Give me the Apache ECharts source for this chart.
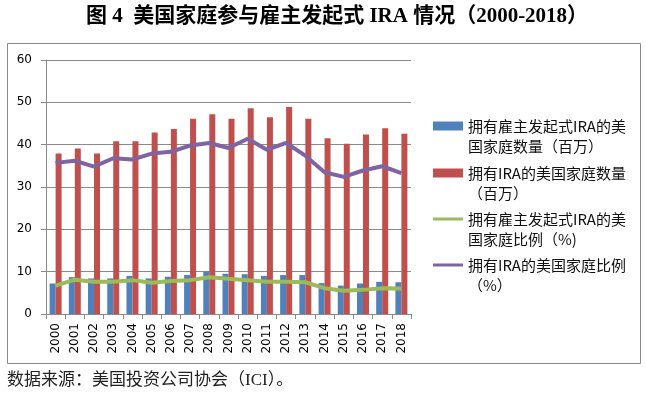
<!DOCTYPE html>
<html>
<head>
<meta charset="utf-8">
<script src="https://cdn.jsdelivr.net/npm/echarts@6/dist/echarts.min.js"></script>
<style>
html,body{margin:0;padding:0;background:#fff;}
#chart{width:646px;height:394px;}
</style>
</head>
<body>
<div id="chart"></div>
<script>
var years = ['2000','2001','2002','2003','2004','2005','2006','2007','2008','2009','2010','2011','2012','2013','2014','2015','2016','2017','2018'];
var employerIraHouseholds = [7.2,8.7,8.4,8.4,9.0,8.4,8.8,9.2,10.0,9.5,9.4,9.0,9.2,9.2,7.3,6.7,7.2,7.6,7.5];
var iraHouseholds = [37.9,39.1,37.9,40.8,40.8,42.9,43.7,46.1,47.2,46.1,48.6,46.5,48.9,46.1,41.5,40.2,42.4,43.9,42.6];
var employerIraShare = [6.7,8.1,7.6,7.6,8.0,7.4,7.8,8.0,8.7,8.3,8.0,7.6,7.6,7.5,6.1,5.5,5.7,6.1,6.0];
var iraShare = [35.7,36.2,34.8,36.8,36.5,37.9,38.3,39.8,40.4,39.2,41.4,38.8,40.4,37.4,33.5,32.4,33.9,34.9,33.3];
var yTicks = [0,10,20,30,40,50,60];

var names = ['拥有雇主发起式IRA的美国家庭数量（百万）','拥有IRA的美国家庭数量（百万）','拥有雇主发起式IRA的美国家庭比例（%)','拥有IRA的美国家庭比例（%）'];
var legendText = ['拥有雇主发起式IRA的美\n国家庭数量（百万）','拥有IRA的美国家庭数量\n（百万）','拥有雇主发起式IRA的美\n国家庭比例（%)','拥有IRA的美国家庭比例\n（%）'];
var legendTops = [96, 143, 189, 235];
var legendIsLine = [false, false, true, true];

var cjk = '"Noto Sans CJK SC", "Noto Sans", sans-serif';
var serifCjk = '"Liberation Serif", "Noto Sans CJK SC", serif';

function makeLegend(i){
  var h = legendIsLine[i] ? 3 : 9;
  return {
    data: [{name: names[i], icon: 'rect'}],
    left: 433, top: legendTops[i],
    orient: 'vertical',
    padding: 0,
    itemWidth: 30, itemHeight: h, itemGap: 0,
    formatter: function(){ return '\n' + legendText[i]; },
    textStyle: {fontSize: 15, lineHeight: 20, color: '#111', fontFamily: cjk},
    selectedMode: false
  };
}

var chart = echarts.init(document.getElementById('chart'), null, {renderer: 'canvas'});
chart.setOption({
  animation: false,
  backgroundColor: '#fff',
  title: [{
    text: '图 4  美国家庭参与雇主发起式 IRA 情况（2000-2018）',
    left: 337, top: 6, textAlign: 'center', padding: 0,
    textStyle: {fontSize: 21, fontWeight: 'bold', color: '#000', fontFamily: serifCjk}
  },{
    text: '数据来源：美国投资公司协会（ICI）。',
    left: 7, top: 372, padding: 0,
    textStyle: {fontSize: 17, fontWeight: 'normal', color: '#222', fontFamily: serifCjk}
  }],
  graphic: [{
    type: 'rect', shape: {x: 7.5, y: 43.5, width: 633, height: 320},
    style: {fill: 'none', stroke: '#8a8a8a', lineWidth: 1}, silent: true
  }],
  legend: [makeLegend(0), makeLegend(1), makeLegend(2), makeLegend(3)],
  grid: {left: 46, right: 235, top: 60, bottom: 80, containLabel: false},
  xAxis: {
    type: 'category', data: years,
    axisLine: {lineStyle: {color: '#8a8a8a'}},
    axisTick: {show: true, length: 5, lineStyle: {color: '#8a8a8a'}},
    axisLabel: {rotate: 90, margin: 9, fontSize: 12, color: '#000', fontFamily: 'DejaVu Sans', interval: 0}
  },
  yAxis: {
    type: 'value', min: 0, max: 60, interval: 10,
    axisLine: {show: true, lineStyle: {color: '#8a8a8a'}},
    axisTick: {show: true, length: 5, lineStyle: {color: '#8a8a8a'}},
    axisLabel: {margin: 14, fontSize: 12, color: '#000', fontFamily: 'DejaVu Sans'},
    splitLine: {show: true, lineStyle: {color: '#8a8a8a'}}
  },
  series: [{
    name: names[0], type: 'bar', data: employerIraHouseholds,
    barWidth: 6, barGap: '0%', itemStyle: {color: '#4F81BD'}
  },{
    name: names[1], type: 'bar', data: iraHouseholds,
    barWidth: 6, barGap: '0%', itemStyle: {color: '#C0504D'}
  },{
    name: names[2], type: 'line', data: employerIraShare,
    symbol: 'none', lineStyle: {width: 4, color: '#9BBB59'}, itemStyle: {color: '#9BBB59'}
  },{
    name: names[3], type: 'line', data: iraShare,
    symbol: 'none', lineStyle: {width: 4, color: '#8064A2'}, itemStyle: {color: '#8064A2'}
  }]
});
</script>
</body>
</html>
